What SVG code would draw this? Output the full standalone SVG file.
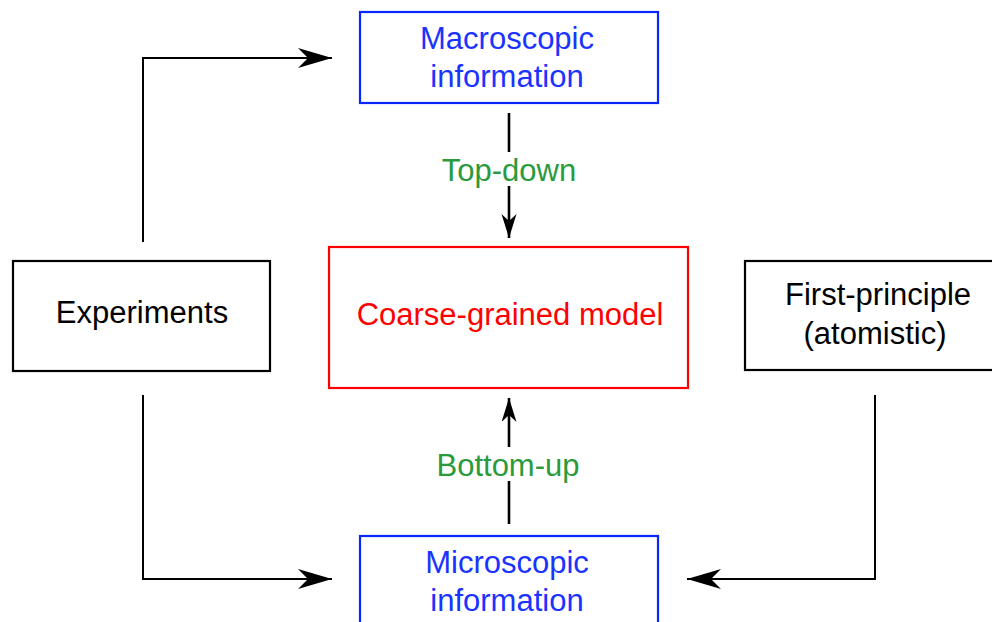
<svg xmlns="http://www.w3.org/2000/svg" width="992" height="622" viewBox="0 0 992 622">
<style>
.box{fill:#fff;stroke-width:2.2}
.k{stroke:#000}
.b{stroke:#0a26ff}
.r{stroke:#ff0000}
text{font-family:"Liberation Sans",Arial,sans-serif;font-size:31px;text-anchor:middle}
.tb{fill:#1a33ff}
.tr{fill:#ff0000}
.tk{fill:#000}
.tg{fill:#2a9a3c}
.c{fill:none;stroke:#000;stroke-width:2}
.v{stroke-width:2.6}
</style>
<defs>
<marker id="aL" markerUnits="userSpaceOnUse" markerWidth="36" markerHeight="22" refX="34" refY="10" orient="auto" viewBox="0 0 36 22">
<path d="M0,0 L34,10 L0,20 L10,10 Z" fill="#000"/>
</marker>
<marker id="aS" markerUnits="userSpaceOnUse" markerWidth="26" markerHeight="16" refX="24" refY="7.5" orient="auto" viewBox="0 0 26 16">
<path d="M0,0 L24,7.5 L0,15 L7,7.5 Z" fill="#000"/>
</marker>
</defs>
<g id="connectors">
<path class="c" d="M143,242 V58 H332" marker-end="url(#aL)"/>
<path class="c" d="M143,395 V579 H332" marker-end="url(#aL)"/>
<path class="c" d="M875,395 V579 H687" marker-end="url(#aL)"/>
<path class="c v" d="M509,113 V152"/>
<path class="c v" d="M509,186 V238" marker-end="url(#aS)"/>
<path class="c v" d="M509,447 V398" marker-end="url(#aS)"/>
<path class="c v" d="M509,481 V524"/>
<text class="tg" x="509" y="181">Top-down</text>
<text class="tg" x="508" y="476">Bottom-up</text>
</g>
<g id="macro">
<rect class="box b" x="360" y="12" width="298" height="91"/>
<text class="tb" x="507" y="49">Macroscopic</text>
<text class="tb" x="507" y="87">information</text>
</g>
<g id="cg">
<rect class="box r" x="329" y="247" width="359" height="141"/>
<text class="tr" x="510" y="325">Coarse-grained model</text>
</g>
<g id="experiments">
<rect class="box k" x="13" y="261" width="257" height="110"/>
<text class="tk" x="142" y="323">Experiments</text>
</g>
<g id="firstprinciple">
<rect class="box k" x="745" y="261" width="260" height="109"/>
<text class="tk" x="878" y="305">First-principle</text>
<text class="tk" x="875" y="344">(atomistic)</text>
</g>
<g id="micro">
<rect class="box b" x="360" y="536" width="298" height="100"/>
<text class="tb" x="507" y="573">Microscopic</text>
<text class="tb" x="507" y="611">information</text>
</g>
</svg>
